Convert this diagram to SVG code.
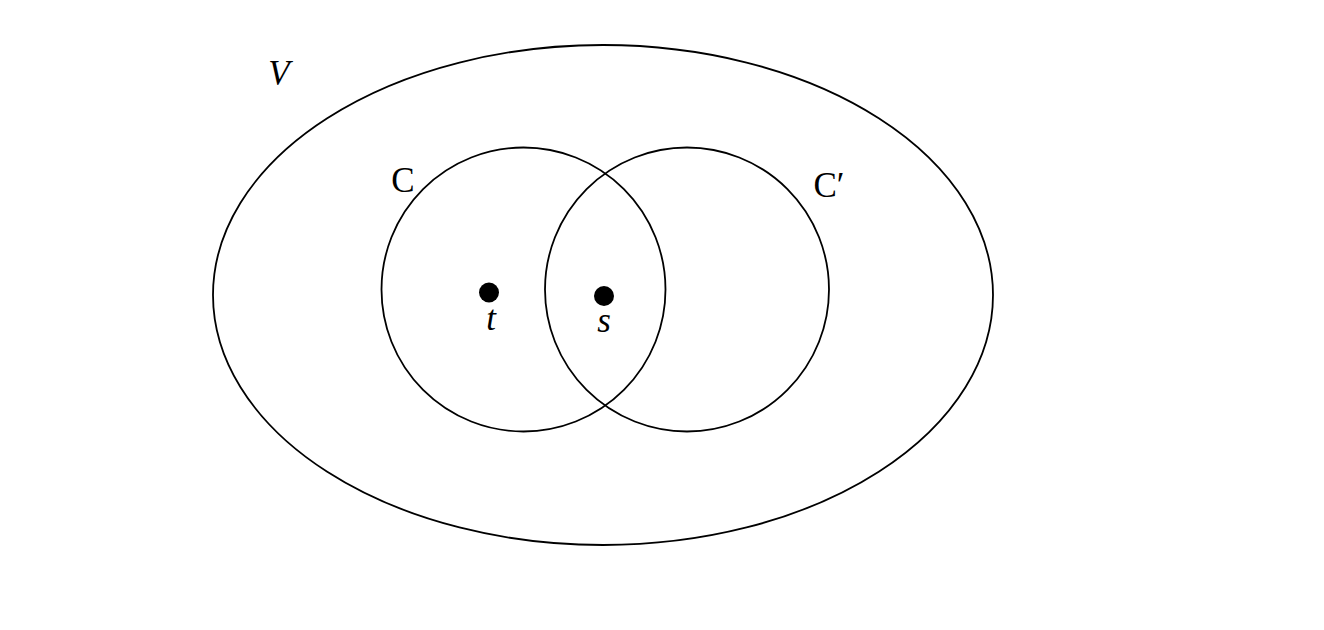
<svg xmlns="http://www.w3.org/2000/svg" width="1324" height="630" viewBox="0 0 1324 630">
<style>
.shape{fill:none;stroke:#000;stroke-width:1.8}
.lbl{font-family:"Liberation Serif","DejaVu Serif",serif;font-size:35px;fill:#000}
.it{font-style:italic}
.dot{fill:#000}
</style>
<rect width="1324" height="630" fill="#fff"/>
<g id="V">
<ellipse class="shape" cx="603" cy="295" rx="390" ry="250"/>
<text class="lbl it" x="279" y="85" text-anchor="middle">V</text>
</g>
<g id="C">
<circle class="shape" cx="523.5" cy="289.5" r="142"/>
<text class="lbl" x="403" y="192" text-anchor="middle">C</text>
</g>
<g id="Cprime">
<circle class="shape" cx="687" cy="289.5" r="142"/>
<text class="lbl" x="829" y="197" text-anchor="middle">C′</text>
</g>
<g id="t">
<circle class="dot" cx="489" cy="292.5" r="10"/>
<text class="lbl it" x="491" y="330" text-anchor="middle">t</text>
</g>
<g id="s">
<circle class="dot" cx="604" cy="296" r="10"/>
<text class="lbl it" x="604" y="332" text-anchor="middle">s</text>
</g>
</svg>
